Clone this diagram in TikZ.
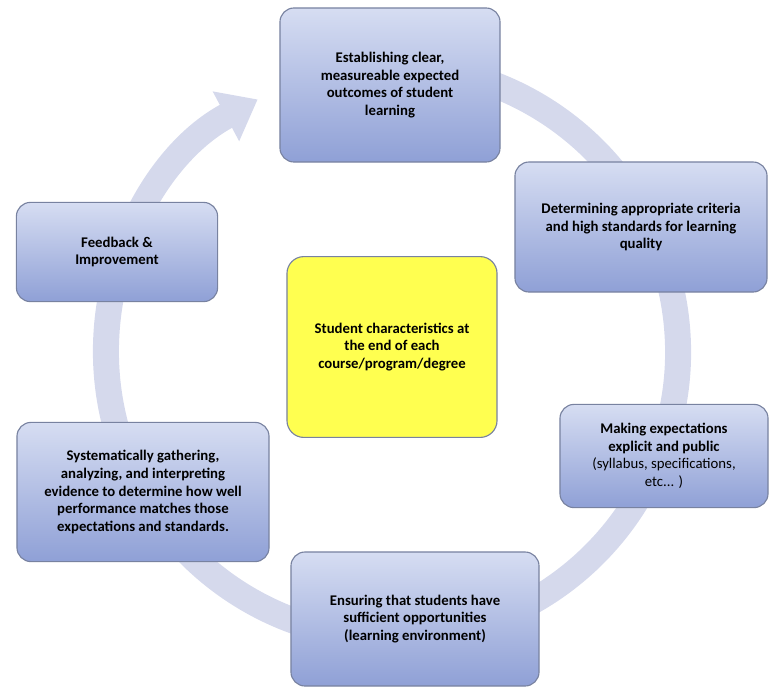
\documentclass[tikz,border=0pt]{standalone}
\usepackage{fontspec}
\setmainfont{Carlito}
\usetikzlibrary{arrows.meta, positioning}
\definecolor{ringc}{RGB}{213, 217, 236}
\definecolor{boxtop}{RGB}{214, 221, 242}
\definecolor{boxbot}{RGB}{143, 160, 214}
\definecolor{boxline}{RGB}{120, 130, 160}
\definecolor{corec}{RGB}{255, 255, 80}

\begin{document}
\begin{tikzpicture}[
    x=0.025cm, y=-0.025cm,
    phase/.style={rectangle, rounded corners=10pt, draw=boxline, line width=0.8pt,
                 top color=boxtop, bottom color=boxbot, align=center,
                 font=\fontsize{10.5}{12.5}\selectfont\bfseries, inner sep=4pt},
    core/.style={rectangle, rounded corners=12pt, draw=boxline, line width=0.8pt,
                 fill=corec, align=center, font=\fontsize{10.5}{12.5}\selectfont\bfseries},
    cycle/.style={ringc, line width=0.65cm, -{Triangle[width=1.35cm, length=0.9cm]}}
]
\useasboundingbox (0,0) rectangle (781,699);

% ring with arrow
\coordinate (mid) at (392,352);
\draw[cycle] ([shift={(95:7.15cm)}]mid) arc[start angle=95, end angle=-242, radius=7.15cm];

% central node
\node[core, minimum width=5.25cm, minimum height=4.52cm] (core) at (392,347)
    {Student characteristics at\\the end of each\\course/program/degree};

% phases of the cycle
\node[phase, minimum width=5.5cm, minimum height=3.85cm] (goal) at (390,85)
    {Establishing clear,\\measureable expected\\outcomes of student\\learning};
\node[phase, minimum width=6.3cm, minimum height=3.25cm] (crit) at (641,227)
    {Determining appropriate criteria\\and high standards for learning\\quality};
\node[phase, minimum width=5.2cm, minimum height=2.58cm] (pub) at (664,456)
    {Making expectations\\explicit and public\\{\mdseries(syllabus, specifications,}\\{\mdseries etc... )}};
\node[phase, minimum width=6.2cm, minimum height=3.35cm] (opp) at (415,619)
    {Ensuring that students have\\sufficient opportunities\\(learning environment)};
\node[phase, minimum width=6.3cm, minimum height=3.48cm] (evid) at (143,492)
    {Systematically gathering,\\analyzing, and interpreting\\evidence to determine how well\\performance matches those\\expectations and standards.};
\node[phase, minimum width=5.03cm, minimum height=2.48cm] (feed) at (117,252)
    {Feedback \&\\Improvement};
\end{tikzpicture}
\end{document}
